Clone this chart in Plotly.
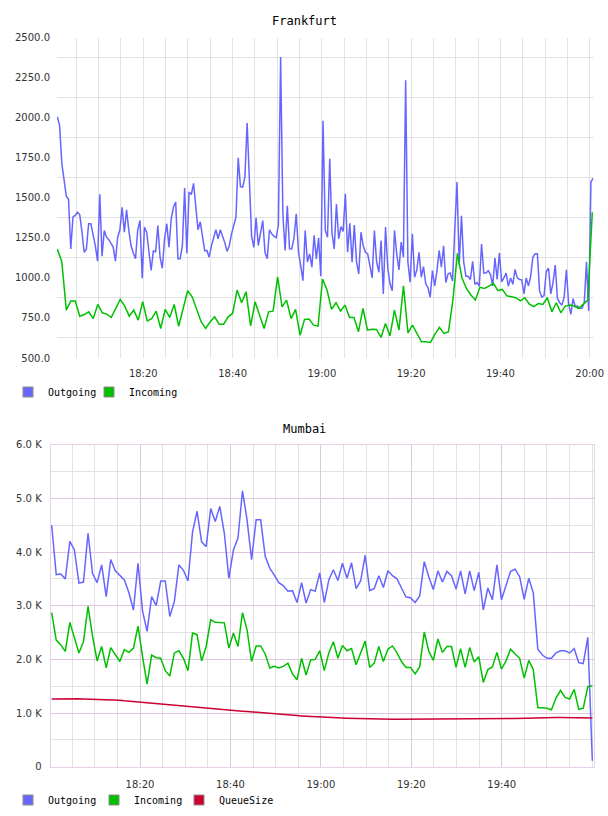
import plotly.graph_objects as go
import pandas as pd

DAY = "2024-01-01 "

fra_outgoing = [
    2004, 1950, 1713, 1600, 1510, 1490, 1181, 1380, 1390, 1410,
    1395, 1290, 1160, 1180, 1338, 1338, 1275, 1200, 1104, 1521,
    1135, 1296, 1254, 1240, 1215, 1192, 1104, 1254, 1300, 1440,
    1285, 1425, 1296, 1200, 1155, 1119, 1300, 1358, 998, 1317,
    1285, 1150, 1046, 1171, 1160, 1327, 1129, 1060, 1240, 1338,
    1192, 1369, 1442, 1473, 1119, 1119, 1200, 1560, 1154, 1536,
    1520, 1590, 1442, 1300, 1350, 1254, 1170, 1171, 1129, 1200,
    1260, 1300, 1244, 1300, 1260, 1220, 1165, 1200, 1275, 1320,
    1379, 1750, 1570, 1567, 1629, 1967, 1546, 1260, 1190, 1375,
    1202, 1290, 1358, 1160, 1120, 1300, 1275, 1260, 1250, 1330,
    2379, 1400, 1171, 1450, 1180, 1181, 1250, 1400, 1160, 1077,
    983, 1296, 1098, 1150, 1067, 1265, 1119, 1250, 1010, 1980,
    1296, 1254, 1744, 1280, 1181, 1460, 1244, 1320, 1290, 1525,
    1160, 1340, 1098, 1330, 1100, 1025, 1285, 1200, 1160, 1150,
    1071, 1000, 1296, 1100, 1035, 1233, 900, 1317, 1060, 963,
    920, 1296, 1150, 1050, 1223, 1129, 2233, 1100, 973, 1275,
    1004, 1050, 1160, 1004, 1070, 963, 940, 879, 1046, 950,
    1040, 1171, 1067, 1200, 970, 1025, 1030, 980, 1300, 1598,
    1080, 1387, 1100, 1010, 1010, 990, 1103, 960, 970, 948,
    1211, 1030, 1030, 1045, 1021, 950, 1124, 990, 1155, 975,
    1000, 1030, 948, 1000, 960, 1052, 1000, 990, 989, 900,
    1000, 950, 1010, 1130, 1150, 1150, 917, 880, 890, 1041,
    1060, 900, 969, 1080, 870, 845, 830, 880, 1050, 840,
    772, 870, 820, 824, 810, 810, 845, 1100, 793, 1600,
    1621,
]

fra_incoming = [
    1180, 1101, 799, 855, 855, 761, 771, 788, 746, 834,
    782, 774, 753, 810, 865, 824, 761, 799, 736, 851,
    732, 746, 792, 684, 803, 753, 834, 698, 809, 920,
    882, 800, 726, 684, 726, 757, 711, 711, 757, 778,
    924, 845, 913, 701, 851, 767, 684, 788, 792, 1006,
    819, 861, 746, 803, 642, 741, 743, 705, 699, 993,
    924, 803, 845, 793, 830, 753, 753, 664, 809, 674,
    680, 678, 628, 715, 638, 799, 674, 951, 657, 705,
    653, 601, 601, 597, 649, 691, 653, 663, 861, 1153,
    1001, 934, 893, 861, 941, 934, 949, 966, 920, 928,
    888, 882, 876, 857, 876, 836, 820, 840, 834, 876,
    788, 845, 782, 824, 830, 824, 809, 836, 861, 1409,
]

fra_y_ticks = [500, 750, 1000, 1250, 1500, 1750, 2000, 2250, 2500]
fra_y_labels = ["500.0", "750.0", "1000.0", "1250.0", "1500.0",
                "1750.0", "2000.0", "2250.0", "2500.0"]

mum_outgoing = [
    4500, 3580, 3590, 3500, 4200, 4040, 3420, 3440, 4350, 3600,
    3430, 3760, 3170, 3860, 3650, 3570, 3480, 3240, 2920, 3790,
    2900, 2520, 3170, 3000, 3460, 3460, 2800, 3080, 3760, 3660,
    3460, 4370, 4760, 4190, 4100, 4810, 4570, 4850, 4350, 3510,
    4040, 4260, 5140, 4600, 3860, 4600, 4600, 3920, 3700, 3570,
    3430, 3370, 3270, 3280, 3060, 3430, 3050, 3300, 3270, 3610,
    3060, 3480, 3670, 3470, 3790, 3510, 3800, 3320, 3460, 3940,
    3280, 3320, 3560, 3340, 3650, 3560, 3500, 3330, 3160, 3150,
    3060, 3180, 3820, 3540, 3300, 3650, 3440, 3640, 3560, 3310,
    3650, 3220, 3650, 3280, 3620, 2920, 3330, 3110, 3760, 3110,
    3390, 3640, 3680, 3540, 3120, 3510, 3240, 2190, 2080, 2020,
    2020, 2120, 2160, 2160, 2120, 2200, 1940, 1920, 2410, 110,
]

mum_incoming = [
    2870, 2360, 2270, 2150, 2690, 2400, 2120, 2330, 2990, 2430,
    1970, 2240, 1840, 2220, 2080, 1960, 2180, 2130, 2210, 2620,
    2050, 1540, 2080, 2030, 2020, 1790, 1690, 2120, 2160, 2020,
    1790, 2490, 2460, 1970, 2240, 2740, 2690, 2680, 2680, 2210,
    2490, 2240, 2870, 2550, 1960, 2250, 2250, 2100, 1840, 1870,
    1840, 1870, 1930, 1730, 1620, 2020, 1710, 1990, 2000, 2160,
    1790, 2120, 2330, 2020, 2260, 2160, 2200, 1900, 2120, 2340,
    1850, 1930, 2240, 1960, 2190, 2250, 2120, 1960, 1850, 1850,
    1730, 1860, 2510, 2150, 1980, 2380, 2130, 2240, 2240, 1850,
    2200, 1850, 2220, 1950, 2050, 1570, 1810, 1860, 2130, 1820,
    1970, 2190, 2100, 2020, 1650, 1980, 1810, 1100, 1100, 1090,
    1060, 1280, 1420, 1290, 1260, 1440, 1070, 1090, 1490, 1510,
]

mum_queuesize = [
    1260, 1262, 1265, 1268, 1270, 1268, 1265, 1262, 1260, 1258,
    1256, 1254, 1252, 1250, 1248, 1240, 1230, 1222, 1215, 1208,
    1200, 1192, 1185, 1178, 1175, 1170, 1160, 1148, 1138, 1130,
    1120, 1112, 1105, 1098, 1090, 1082, 1075, 1068, 1060, 1052,
    1045, 1040, 1035, 1028, 1020, 1015, 1010, 1002, 995, 988,
    980, 972, 965, 958, 952, 946, 940, 935, 930, 926,
    922, 918, 914, 910, 906, 903, 900, 898, 896, 894,
    892, 890, 889, 888, 887, 886, 885, 885, 884, 884,
    884, 885, 886, 887, 888, 889, 890, 891, 892, 893,
    894, 894, 893, 892, 891, 890, 889, 889, 890, 892,
    895, 898, 900, 903, 905, 908, 910, 912, 914, 915,
    916, 916, 915, 914, 913, 912, 911, 910, 908, 906,
]

mum_y_ticks = [0, 1000, 2000, 3000, 4000, 5000, 6000]
mum_y_labels = ["0", "1.0 K", "2.0 K", "3.0 K", "4.0 K", "5.0 K", "6.0 K"]
mum_x_ticks = ["18:20", "18:40", "19:00", "19:20", "19:40"]

fra_out_t = pd.date_range(DAY + "18:00:45", DAY + "20:00:47", periods=len(fra_outgoing))
fra_in_t = pd.date_range(DAY + "18:00:44", DAY + "20:00:35", periods=len(fra_incoming))
mum_t = pd.date_range(DAY + "18:00:28", DAY + "20:00:02", periods=len(mum_outgoing))

C_OUT = "#6666ff"
C_IN = "#00c000"
C_Q = "#cc0033"
GRID = "#e2e2e2"
PURPLE = "#dfc5df"
W, H = 608, 816

fig = go.Figure()

fig.add_trace(go.Scatter(x=fra_out_t, y=fra_outgoing, mode="lines",
                         line=dict(color=C_OUT, width=1.5), showlegend=False,
                         xaxis="x", yaxis="y", name="Outgoing"))
fig.add_trace(go.Scatter(x=fra_in_t, y=fra_incoming, mode="lines",
                         line=dict(color=C_IN, width=1.5), showlegend=False,
                         xaxis="x", yaxis="y", name="Incoming"))
fig.add_trace(go.Scatter(x=mum_t, y=mum_outgoing, mode="lines",
                         line=dict(color=C_OUT, width=1.5), showlegend=False,
                         xaxis="x2", yaxis="y2", name="Outgoing"))
fig.add_trace(go.Scatter(x=mum_t, y=mum_incoming, mode="lines",
                         line=dict(color=C_IN, width=1.5), showlegend=False,
                         xaxis="x2", yaxis="y2", name="Incoming"))
fig.add_trace(go.Scatter(x=mum_t, y=mum_queuesize, mode="lines",
                         line=dict(color=C_Q, width=1.5), showlegend=False,
                         xaxis="x2", yaxis="y2", name="QueueSize"))


def swatch(name, color, legend, xa, ya):
    return go.Scatter(x=[None], y=[None], mode="markers", name=name,
                      marker=dict(symbol="square", size=10, color=color,
                                  line=dict(color="#8a8a8a", width=1)),
                      legend=legend, xaxis=xa, yaxis=ya, showlegend=True)


# one legend per entry so each swatch can sit where the reference has it
fig.add_trace(swatch("Outgoing", C_OUT, "legend", "x", "y"))
fig.add_trace(swatch("Incoming", C_IN, "legend2", "x", "y"))
fig.add_trace(swatch("Outgoing", C_OUT, "legend3", "x2", "y2"))
fig.add_trace(swatch("Incoming", C_IN, "legend4", "x2", "y2"))
fig.add_trace(swatch("QueueSize", C_Q, "legend5", "x2", "y2"))

tickfont = dict(family="DejaVu Sans", size=10, color="#333333")
legfont = dict(family="DejaVu Sans Mono", size=10, color="#000000")


def leg(xpx, ypx):
    return dict(orientation="h", x=xpx / W, y=1 - ypx / H, xanchor="left",
                yanchor="middle", font=legfont, bgcolor="rgba(0,0,0,0)",
                borderwidth=0, itemclick=False, itemdoubleclick=False)


fig.update_layout(
    width=W, height=H, autosize=False,
    margin=dict(l=0, r=0, t=0, b=0, pad=0, autoexpand=False),
    paper_bgcolor="white", plot_bgcolor="white",
    showlegend=True,
    xaxis=dict(
        domain=[57 / W, 593.7 / W], anchor="y", type="date",
        range=[DAY + "18:00:40", DAY + "20:00:54"],
        tickmode="linear", tick0=DAY + "18:00", dtick=1200000,
        tickformat="%H:%M", showgrid=True, gridcolor=GRID, gridwidth=1,
        minor=dict(tickmode="linear", tick0=DAY + "18:00", dtick=300000,
                   showgrid=True, gridcolor=GRID, gridwidth=1),
        ticks="", showline=False, zeroline=False, tickfont=tickfont,
        ticklabelstandoff=8, automargin=False,
    ),
    yaxis=dict(
        domain=[1 - 358 / H, 1 - 37.5 / H], anchor="x",
        range=[500, 2500], tickmode="array", tickvals=fra_y_ticks,
        ticktext=fra_y_labels, showgrid=False,
        minor=dict(tickmode="linear", tick0=625, dtick=250, showgrid=True,
                   gridcolor=GRID, gridwidth=1),
        ticks="", showline=False, zeroline=False, tickfont=tickfont,
        ticklabelstandoff=6, automargin=False,
    ),
    xaxis2=dict(
        domain=[50.7 / W, 593.7 / W], anchor="y2", type="date",
        range=[DAY + "18:00:15", DAY + "20:00:20"],
        tickmode="array", tickvals=[DAY + t for t in mum_x_ticks],
        ticktext=mum_x_ticks, showgrid=True, gridcolor=PURPLE, gridwidth=1,
        minor=dict(tickmode="linear", tick0=DAY + "18:00", dtick=300000,
                   showgrid=True, gridcolor=GRID, gridwidth=1),
        ticks="", showline=True, mirror=True, linecolor="#e6d2e6", linewidth=1,
        zeroline=False, tickfont=tickfont, ticklabelstandoff=8, automargin=False,
    ),
    yaxis2=dict(
        domain=[1 - 766.7 / H, 1 - 444.7 / H], anchor="x2",
        range=[0, 6000], tickmode="array", tickvals=mum_y_ticks,
        ticktext=mum_y_labels, showgrid=True, gridcolor=PURPLE, gridwidth=1,
        minor=dict(tickmode="linear", tick0=500, dtick=1000, showgrid=True,
                   gridcolor=GRID, gridwidth=1),
        ticks="", showline=True, mirror=True, linecolor="#e6d2e6", linewidth=1,
        zeroline=False, tickfont=tickfont, ticklabelstandoff=6, automargin=False,
    ),
    legend=leg(8, 392),
    legend2=leg(89, 392),
    legend3=leg(8, 800),
    legend4=leg(94, 800),
    legend5=leg(179, 800),
    annotations=[
        dict(text="Frankfurt", x=304 / W, y=1 - 20.5 / H, xref="paper", yref="paper",
             showarrow=False, xanchor="center", yanchor="middle",
             font=dict(family="DejaVu Sans Mono", size=12, color="#000000")),
        dict(text="Mumbai", x=304 / W, y=1 - 429 / H, xref="paper", yref="paper",
             showarrow=False, xanchor="center", yanchor="middle",
             font=dict(family="DejaVu Sans Mono", size=12, color="#000000")),
    ],
)

fig.write_html("out.html", config={"responsive": False})
